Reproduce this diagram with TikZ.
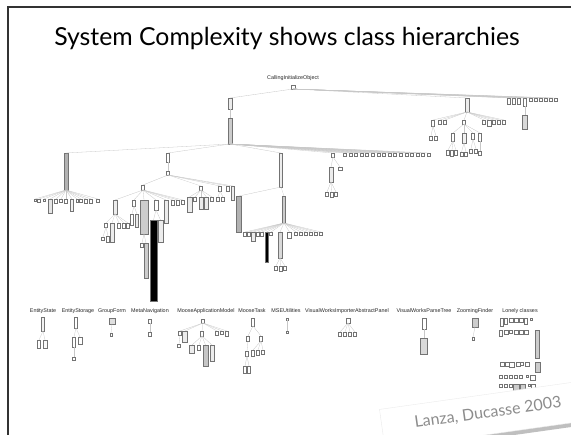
\documentclass[tikz,border=0pt]{standalone}
\usepackage{fontspec}
\setmainfont{Lato}
\newfontfamily\tagfont{Liberation Sans}
\usetikzlibrary{shadows}

\tikzset{
  klass/.style={draw=black!55, line width=0.35pt, inner sep=0pt, outer sep=0pt, anchor=north},
  inh/.style={draw=black!22, line width=0.3pt},
  tag/.style={font=\tagfont\fontsize{5.4}{6}\selectfont, text=black!85, inner sep=0pt},
}
% one class box: name, x, top y, width, height, fill
\newcommand{\klass}[6]{\node[klass, fill=#6, minimum width=#4pt, minimum height=#5pt] (#1) at (#2,#3) {};}

\begin{document}
\begin{tikzpicture}[x=1pt, y=-1pt]
  \useasboundingbox (0,0) rectangle (571,435);
  \draw[line width=1.3pt, black!80] (8,435) -- (8,7) -- (571,7);
  \node[font=\fontsize{24.8}{28}\selectfont, anchor=base] (title) at (287,46) {System Complexity shows class hierarchies};

  % main hierarchy
  \node[tag] (rootname) at (293,78) {CallingInitializeObject};
  \klass{r}{293}{85}{4}{4}{white}
  \klass{a1}{230}{98}{4}{11}{gray!15}
  \klass{a2}{230}{118}{4}{26}{gray!40}
  \klass{b1}{467}{98}{4}{14}{gray!15}
  \draw[inh] (r.south) -- (a1.north);
  \draw[inh] (r.south) -- (b1.north);
  \draw[inh] (a1.south) -- (a2.north);
  \foreach \x/\h [count=\i] in {509/6, 514/6, 519/6, 525/8, 531/3, 536/3, 541/3, 546/3, 551/3, 556/3}{
    \klass{c\i}{\x}{98}{3}{\h}{white}
    \draw[inh] (r.south) -- (c\i.north);
  }
  \klass{c4a}{525}{115}{5}{14}{gray!30}
  \draw[inh] (c4.south) -- (c4a.north);

  \klass{d}{66}{153}{4}{37}{gray!60}
  \klass{e}{168}{153}{3}{9}{white}
  \klass{f}{281}{153}{3}{34}{gray!15}
  \klass{g}{333}{153}{3}{4}{white}
  \foreach \n in {d,e,f,g} \draw[inh] (a2.south) -- (\n.north);
  \foreach \i in {1,...,16}{
    \klass{h\i}{339+5.6*\i}{153}{3}{3}{white}
    \draw[inh] (a2.south) -- (h\i.north);
  }

  \foreach \x/\w/\h/\col [count=\i] in {35/2/2/white, 39/3/3/white, 44/2/2/white, 50/4/14/gray!20, 56/3/4/white, 61/3/3/white, 66/3/4/white, 72/3/12/gray!10, 77/2/3/white, 81/3/3/white, 86/3/4/white, 91/3/4/white, 98/3/3/white}{
    \klass{d\i}{\x}{199}{\w}{\h}{\col}
    \draw[inh] (d.south) -- (d\i.north);
  }

  \klass{e1}{168}{171}{3}{4}{white}
  \draw[inh] (e.south) -- (e1.north);
  \klass{k}{143}{185}{3}{5}{white}
  \draw[inh] (e1.south) -- (k.north);
  \foreach \x/\h/\col [count=\i] in {201/4/white, 220/5/white, 228/5/white, 233/14/gray!15}{
    \klass{l\i}{\x}{186}{3}{\h}{\col}
    \draw[inh] (e1.south) -- (l\i.north);
  }
  \foreach \x/\w/\h/\col [count=\i] in {115/4/14/gray!15, 134/3/6/white, 144/8/34/gray!40, 156/4/10/white, 166/4/23/gray!15, 173/3/5/white, 178/3/5/white, 183/3/4/white}{
    \klass{k\i}{\x}{200}{\w}{\h}{\col}
    \draw[inh] (k.south) -- (k\i.north);
  }
  \foreach \x/\w/\h/\col [count=\i] in {106/3/4/white, 112/4/19/gray!15, 119/3/5/white, 124/3/5/white, 128/3/5/white}{
    \klass{ka\i}{\x}{223}{\w}{\h}{\col}
    \draw[inh] (k1.south) -- (ka\i.north);
  }
  \klass{kaa1}{103}{237}{3}{3}{white}
  \klass{kaa2}{108}{236}{3}{6}{white}
  \draw[inh] (ka1.south) -- (kaa1.north);
  \draw[inh] (ka1.south) -- (kaa2.north);
  \klass{kb1}{132}{214}{3}{11}{white}
  \klass{kb2}{137}{214}{3}{13}{gray!15}
  \klass{kc1}{142}{243}{3}{4}{white}
  \klass{kc2}{146}{243}{4}{35}{gray!40}
  \klass{kd1}{153.5}{220}{7}{81}{black}
  \klass{kd2}{160.5}{220}{5}{22}{gray!15}
  \foreach \n in {kb1,kb2} \draw[inh] (k2.south) -- (\n.north);
  \foreach \n in {kc1,kc2} \draw[inh] (k3.south) -- (\n.north);
  \foreach \n in {kd1,kd2} \draw[inh] (k4.south) -- (\n.north);

  \foreach \x/\w/\h/\col [count=\i] in {189.5/5/15/gray!15, 195/3/4/white, 201/4/12/gray!15, 206.5/4/12/gray!15, 212/3/4/white}{
    \klass{la\i}{\x}{197}{\w}{\h}{\col}
    \draw[inh] (l1.south) -- (la\i.north);
  }
  \foreach \x [count=\i] in {218,223}{
    \klass{lb\i}{\x}{197}{3}{4}{white}
    \draw[inh] (l2.south) -- (lb\i.north);
  }

  \klass{f1}{239}{196}{5}{36}{gray!60}
  \klass{f2}{284}{196}{3}{27}{gray!40}
  \draw[inh] (f.south) -- (f1.north);
  \draw[inh] (f.south) -- (f2.north);
  \foreach \x/\w/\h/\col [count=\i] in {245/3/4/white, 249/3/4/white, 253/4/9/gray!15, 258/3/4/white, 262/3/4/white, 266.5/3/30/black, 271/3/3/white, 280/4/26/gray!30, 289.5/4/6/white, 296/3/3/white, 301/3/3/white, 306/3/3/white, 311/3/3/white, 316/3/3/white, 321/3/3/white}{
    \klass{fc\i}{\x}{232}{\w}{\h}{\col}
    \draw[inh] (f2.south) -- (fc\i.north);
  }
  \foreach \x/\h [count=\i] in {276/4, 280.5/5, 285/4}{
    \klass{fd\i}{\x}{266}{3}{\h}{white}
    \draw[inh] (fc8.south) -- (fd\i.north);
  }

  \klass{g1}{331}{167}{4}{15}{gray!15}
  \klass{g2}{340}{167}{4}{3}{white}
  \draw[inh] (g.south) -- (g1.north);
  \draw[inh] (g.south) -- (g2.north);
  \foreach \x/\h [count=\i] in {327/4, 331.5/5, 336/4}{
    \klass{ga\i}{\x}{192}{3}{\h}{white}
    \draw[inh] (g1.south) -- (ga\i.north);
  }

  \foreach \x/\w/\h [count=\i] in {433/3/6, 440/3/4, 445/3/4, 464/3/4, 484/3/4, 489/4/6, 494/3/4, 499/3/4, 504/3/4}{
    \klass{bc\i}{\x}{120}{\w}{\h}{white}
    \draw[inh] (b1.south) -- (bc\i.north);
  }
  \foreach \x [count=\i] in {431,436}{
    \klass{bd\i}{\x}{136}{3}{4}{white}
    \draw[inh] (bc1.south) -- (bd\i.north);
  }
  \foreach \x/\w/\h/\col [count=\i] in {453/3/8/white, 464/4/10/gray!10, 473/3/6/white, 480/3/8/white}{
    \klass{be\i}{\x}{133}{\w}{\h}{\col}
    \draw[inh] (bc4.south) -- (be\i.north);
  }
  \foreach \x/\h [count=\i] in {448/5, 452/6, 456/5}{
    \klass{bf\i}{\x}{150}{3}{\h}{white}
    \draw[inh] (be1.south) -- (bf\i.north);
  }
  \foreach \x [count=\i] in {461.5,466}{
    \klass{bg\i}{\x}{152}{3}{4}{white}
    \draw[inh] (be2.south) -- (bg\i.north);
  }
  \foreach \x [count=\i] in {471,476}{
    \klass{bh\i}{\x}{149}{3}{4}{white}
    \draw[inh] (be3.south) -- (bh\i.north);
  }
  \klass{bi1}{480}{151}{3}{4}{white}
  \draw[inh] (be4.south) -- (bi1.north);

  % separate hierarchies
  \foreach \x/\t [count=\i] in {43/EntityState, 78/EntityStorage, 112/GroupForm, 150/MetaNavigation, 206/MooseApplicationModel, 252/MooseTask, 286/MSEUtilities, 347/VisualWorksImporterAbstractPanel, 424/VisualWorksParseTree, 475/ZoomingFinder, 520/Lonely classes}
    \node[tag] (t\i) at (\x,311) {\t};

  \klass{es}{43}{317}{3}{14}{gray!10}
  \klass{es1}{39}{340}{3}{8}{white}
  \klass{es2}{45}{340}{4}{8}{gray!5}
  \foreach \n in {es1,es2} \draw[inh] (es.south) -- (\n.north);

  \klass{et}{76}{317}{3}{11}{white}
  \klass{et1}{74}{337}{3}{10}{white}
  \klass{et2}{80}{337}{4}{7}{white}
  \klass{et3}{74}{357}{3}{3}{white}
  \foreach \n in {et1,et2} \draw[inh] (et.south) -- (\n.north);
  \draw[inh] (et1.south) -- (et3.north);

  \klass{gf}{112}{318}{6}{6}{gray!25}
  \klass{gf1}{111}{333}{2}{3}{white}
  \draw[inh] (gf.south) -- (gf1.north);

  \klass{mn}{150}{319}{3}{4}{white}
  \klass{mn1}{150}{332}{3}{4}{white}
  \draw[inh] (mn.south) -- (mn1.north);

  \klass{ma}{203}{319}{3}{4}{white}
  \foreach \x/\w/\h/\col [count=\i] in {180/3/4/white, 185/5/11/gray!15, 202/3/5/white, 217/3/4/white, 222/3/3/white, 227/3/5/white}{
    \klass{ma\i}{\x}{331}{\w}{\h}{\col}
    \draw[inh] (ma.south) -- (ma\i.north);
  }
  \klass{mb1}{179}{344}{3}{3}{white}
  \draw[inh] (ma1.south) -- (mb1.north);
  \foreach \x/\w/\h/\col [count=\i] in {192/5/8/gray!15, 199/3/5/white, 205.5/5/21/gray!45, 212/4/16/gray!15}{
    \klass{mc\i}{\x}{345}{\w}{\h}{\col}
    \draw[inh] (ma3.south) -- (mc\i.north);
  }

  \klass{mt}{253}{318}{3}{8}{white}
  \klass{mt1}{248}{336}{3}{5}{white}
  \klass{mt2}{261}{336}{3}{5}{white}
  \klass{mt3}{247}{351}{3}{5}{white}
  \foreach \n in {mt1,mt2} \draw[inh] (mt.south) -- (\n.north);
  \draw[inh] (mt1.south) -- (mt3.north);
  \foreach \x [count=\i] in {245,249}{
    \klass{mu\i}{\x}{366}{3}{7}{white}
    \draw[inh] (mt3.south) -- (mu\i.north);
  }
  \foreach \x/\h [count=\i] in {253/6, 258/5, 263/4}{
    \klass{mv\i}{\x}{350}{3}{\h}{white}
    \draw[inh] (mt2.south) -- (mv\i.north);
  }

  \klass{mse}{287}{318}{2}{2}{white}
  \klass{mse1}{287}{331}{2}{2}{white}
  \draw[inh] (mse.south) -- (mse1.north);

  \klass{vw}{348}{318}{4}{5}{white}
  \foreach \x [count=\i] in {340,345,350,355}{
    \klass{vw\i}{\x}{332}{3}{4}{white}
    \draw[inh] (vw.south) -- (vw\i.north);
  }

  \klass{vp}{424}{318}{4}{11}{white}
  \klass{vp1}{424}{338}{7}{16}{gray!30}
  \draw[inh] (vp.south) -- (vp1.north);

  \klass{zf}{475}{318}{6}{9}{gray!40}
  \klass{zf1}{473}{337}{2}{3}{white}
  \draw[inh] (zf.south) -- (zf1.north);

  % lonely classes
  \foreach \x/\w/\h [count=\i] in {502/3/8, 506/3/6, 511/4/4, 516/4/4, 521/4/4, 526/3/6, 531/2/2}
    \klass{lca\i}{\x}{318}{\w}{\h}{white};
  \foreach \x/\w/\h [count=\i] in {501/3/6, 506/4/4, 511/3/3, 516/4/4, 521/4/4, 526/4/4}
    \klass{lcb\i}{\x}{330}{\w}{\h}{white};
  \klass{lcb7}{537}{330}{4}{28}{gray!40}
  \foreach \x/\w/\h [count=\i] in {502/4/4, 507/4/4, 512/5/5, 518/4/4, 522/3/3, 527/4/4}
    \klass{lcc\i}{\x}{362}{\w}{\h}{white};
  \klass{lcc7}{538}{362}{5}{10}{gray!40}
  \foreach \x/\w/\h [count=\i] in {501/3/3, 506/3/3, 511/3/3, 516/3/3, 521/3/3, 527/2/2, 533/5/5}
    \klass{lcd\i}{\x}{375}{\w}{\h}{white};
  \foreach \x/\w/\h/\col [count=\i] in {501/3/3/white, 506/3/3/white, 511/3/3/white, 516/6/8/gray!40, 523/5/8/gray!40, 529/2/2/white, 533/4/4/white}
    \klass{lce\i}{\x}{384}{\w}{\h}{\col};

  % citation slip
  \node[fill=white, draw=black!8, rotate=8, minimum width=262pt, minimum height=40pt,
        drop shadow={shadow xshift=1pt, shadow yshift=-4pt, opacity=0.5}] (slip) at (512,411) {};
  \node[rotate=8, text=black!45, font=\fontsize{16}{18}\selectfont] (cite) at (488,413) {Lanza, Ducasse 2003};
\end{tikzpicture}
\end{document}
